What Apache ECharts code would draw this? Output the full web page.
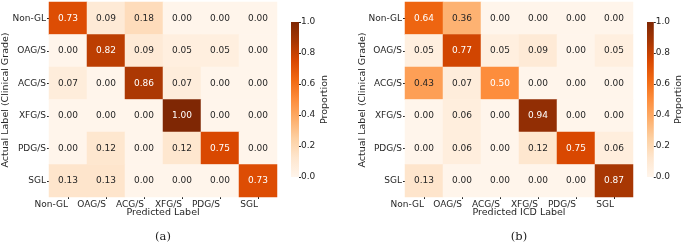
<!DOCTYPE html>
<html>
<head>
<meta charset="utf-8">
<script src="https://cdn.jsdelivr.net/npm/echarts@6/dist/echarts.min.js"></script>
<style>
html,body{margin:0;padding:0;background:#fff;}
#chart{width:685px;height:242px;}
</style>
</head>
<body>
<div id="chart"></div>
<script>
// Categories
var predLabels = ['Non-GL', 'OAG/S', 'ACG/S', 'XFG/S', 'PDG/S', 'SGL'];
var actualLabels = ['Non-GL', 'OAG/S', 'ACG/S', 'XFG/S', 'PDG/S', 'SGL'];
// (a) rows = actual, cols = predicted
var matrixA = [
  [0.73, 0.09, 0.18, 0.00, 0.00, 0.00],
  [0.00, 0.82, 0.09, 0.05, 0.05, 0.00],
  [0.07, 0.00, 0.86, 0.07, 0.00, 0.00],
  [0.00, 0.00, 0.00, 1.00, 0.00, 0.00],
  [0.00, 0.12, 0.00, 0.12, 0.75, 0.00],
  [0.13, 0.13, 0.00, 0.00, 0.00, 0.73]
];
// (b)
var matrixB = [
  [0.64, 0.36, 0.00, 0.00, 0.00, 0.00],
  [0.05, 0.77, 0.05, 0.09, 0.00, 0.05],
  [0.43, 0.07, 0.50, 0.00, 0.00, 0.00],
  [0.00, 0.06, 0.00, 0.94, 0.00, 0.00],
  [0.00, 0.06, 0.00, 0.12, 0.75, 0.06],
  [0.13, 0.00, 0.00, 0.00, 0.00, 0.87]
];
var colorbarTicks = [0, 0.2, 0.4, 0.6, 0.8, 1.0];
var orangesStops = ['#fff5eb', '#fee6ce', '#fdd0a2', '#fdae6b', '#fd8d3c', '#f16913', '#d94801', '#a63603', '#7f2704'];

var FONT = 'DejaVu Sans';
var TXT = '#262626';

function toData(m) {
  var out = [];
  for (var r = 0; r < m.length; r++) {
    for (var c = 0; c < m[r].length; c++) {
      out.push({
        value: [c, r, m[r][c]],
        label: { color: m[r][c] >= 0.5 ? '#ffffff' : TXT }
      });
    }
  }
  return out;
}

function gradient() {
  var stops = orangesStops.map(function (c, i) {
    return { offset: 1 - i / (orangesStops.length - 1), color: c };
  });
  return new echarts.graphic.LinearGradient(0, 0, 0, 1, stops.reverse());
}

var heatGrids = [
  { left: 49, top: 2, width: 228, height: 195 },
  { left: 405, top: 2, width: 228, height: 195 }
];
var barGrids = [
  { left: 291, top: 22, width: 8, height: 155 },
  { left: 647, top: 22, width: 8, height: 155 }
];

function catX(gi) {
  return {
    type: 'category', gridIndex: gi, data: predLabels, position: 'bottom',
    axisLine: { show: false },
    axisTick: { show: true, alignWithLabel: true, length: 2, lineStyle: { color: TXT } },
    axisLabel: { fontFamily: FONT, fontSize: 9, color: TXT, align: 'right', margin: 3, interval: 0 },
    splitLine: { show: false }
  };
}
function catY(gi) {
  return {
    type: 'category', gridIndex: gi, data: actualLabels, inverse: true,
    axisLine: { show: false },
    axisTick: { show: true, alignWithLabel: true, length: 2, lineStyle: { color: TXT } },
    axisLabel: { fontFamily: FONT, fontSize: 9, color: TXT, margin: 3, interval: 0 },
    splitLine: { show: false }
  };
}
function cbX(gi) {
  return { type: 'category', gridIndex: gi, data: ['p'], show: false };
}
function cbY(gi) {
  return {
    type: 'value', gridIndex: gi, min: 0, max: 1, interval: 0.2, position: 'right',
    name: 'Proportion', nameLocation: 'middle', nameRotate: 90, nameGap: 20,
    nameTextStyle: { fontFamily: FONT, fontSize: 9.5, color: TXT },
    axisLine: { show: false },
    axisTick: { show: true, length: 2, lineStyle: { color: TXT } },
    axisLabel: { fontFamily: FONT, fontSize: 9, color: TXT, margin: 2,
      formatter: function (v) { return v.toFixed(1); } },
    splitLine: { show: false }
  };
}

var option = {
  animation: false,
  backgroundColor: '#ffffff',
  grid: [heatGrids[0], barGrids[0], heatGrids[1], barGrids[1]],
  xAxis: [catX(0), cbX(1), catX(2), cbX(3)],
  yAxis: [catY(0), cbY(1), catY(2), cbY(3)],
  visualMap: {
    show: false, min: 0, max: 1, seriesIndex: [0, 1], dimension: 2,
    inRange: { color: orangesStops }
  },
  series: [
    {
      type: 'heatmap', xAxisIndex: 0, yAxisIndex: 0, data: toData(matrixA),
      label: { show: true, fontFamily: FONT, fontSize: 9,
        formatter: function (p) { return p.value[2].toFixed(2); } }
    },
    {
      type: 'heatmap', xAxisIndex: 2, yAxisIndex: 2, data: toData(matrixB),
      label: { show: true, fontFamily: FONT, fontSize: 9,
        formatter: function (p) { return p.value[2].toFixed(2); } }
    },
    {
      type: 'bar', xAxisIndex: 1, yAxisIndex: 1, data: [colorbarTicks[colorbarTicks.length - 1]],
      barWidth: '100%', itemStyle: { color: gradient() }, silent: true
    },
    {
      type: 'bar', xAxisIndex: 3, yAxisIndex: 3, data: [colorbarTicks[colorbarTicks.length - 1]],
      barWidth: '100%', itemStyle: { color: gradient() }, silent: true
    }
  ],
  graphic: [
    { type: 'text', x: 163, y: 213, style: { text: 'Predicted Label', font: '9.5px "DejaVu Sans"', fill: TXT, align: 'center', verticalAlign: 'middle' } },
    { type: 'text', x: 519, y: 213, style: { text: 'Predicted ICD Label', font: '9.5px "DejaVu Sans"', fill: TXT, align: 'center', verticalAlign: 'middle' } },
    { type: 'text', x: 6, y: 100, rotation: Math.PI / 2, style: { text: 'Actual Label (Clinical Grade)', font: '9.5px "DejaVu Sans"', fill: TXT, align: 'center', verticalAlign: 'middle' } },
    { type: 'text', x: 363, y: 100, rotation: Math.PI / 2, style: { text: 'Actual Label (Clinical Grade)', font: '9.5px "DejaVu Sans"', fill: TXT, align: 'center', verticalAlign: 'middle' } },
    { type: 'text', x: 163, y: 237, style: { text: '(a)', font: '11.5px "DejaVu Serif"', fill: '#222', align: 'center', verticalAlign: 'middle' } },
    { type: 'text', x: 519, y: 237, style: { text: '(b)', font: '11.5px "DejaVu Serif"', fill: '#222', align: 'center', verticalAlign: 'middle' } }
  ]
};

var chart = echarts.init(document.getElementById('chart'), null, { renderer: 'canvas' });
chart.setOption(option);
</script>
</body>
</html>
